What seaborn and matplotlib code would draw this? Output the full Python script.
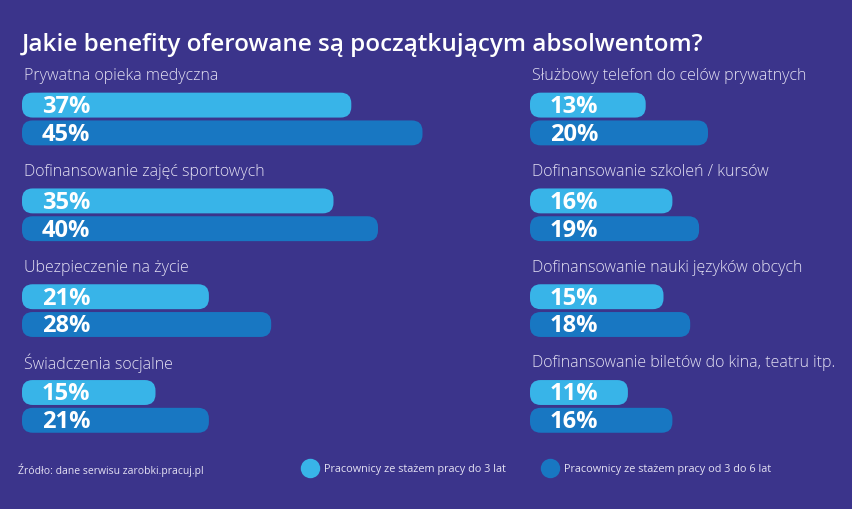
import pandas as pd
import matplotlib
matplotlib.use("Agg")
import matplotlib.pyplot as plt
import seaborn as sns
from matplotlib.patches import FancyBboxPatch
from matplotlib.lines import Line2D

left_benefits = ["Prywatna opieka medyczna", "Dofinansowanie zajęć sportowych",
                 "Ubezpieczenie na życie", "Świadczenia socjalne"]
left_upto3 = [37, 35, 21, 15]
left_3to6 = [45, 40, 28, 21]

right_benefits = ["Służbowy telefon do celów prywatnych", "Dofinansowanie szkoleń / kursów",
                  "Dofinansowanie nauki języków obcych", "Dofinansowanie biletów do kina, teatru itp."]
right_upto3 = [13, 16, 15, 11]
right_3to6 = [20, 19, 18, 16]

series = ["Pracownicy ze stażem pracy do 3 lat", "Pracownicy ze stażem pracy od 3 do 6 lat"]

bg = "#3b348b"
light_blue = "#38b4e8"
dark_blue = "#1877c2"
txt_col = "#e4e1f3"

sns.set_theme(style="white")
plt.rcParams["font.family"] = ["Open Sans", "DejaVu Sans"]

fig = plt.figure(figsize=(8.52, 5.1), dpi=100, facecolor=bg)

W, H = 852, 510
px_per_pct = 8.9
px_per_row = 95.8
y_top, y_bot = -0.9, 3.5


def make_df(benefits, a, b):
    df = pd.DataFrame({"benefit": benefits * 2,
                       "value": a + b,
                       "group": [series[0]] * len(benefits) + [series[1]] * len(benefits)})
    return df


def panel(x0_px, width_px, benefits, a, b):
    bottom = (H - (120 + px_per_row * (y_bot - 0))) / H
    height = px_per_row * (y_bot - y_top) / H
    ax = fig.add_axes([x0_px / W, bottom, width_px / W, height])
    ax.set_facecolor(bg)
    df = make_df(benefits, a, b)
    sns.barplot(data=df, y="benefit", x="value", hue="group", orient="h",
                palette=[light_blue, dark_blue], saturation=1, width=0.58,
                legend=False, ax=ax)
    ax.set_xlim(0, width_px / px_per_pct)
    ax.set_ylim(y_bot, y_top)
    aspect = px_per_pct / px_per_row
    for p in list(ax.patches):
        x, y = p.get_x(), p.get_y()
        w, h = p.get_width(), p.get_height()
        fb = FancyBboxPatch((x, y + 0.015), w, h - 0.03,
                            boxstyle="round,pad=0,rounding_size=1.2",
                            mutation_aspect=aspect,
                            facecolor=p.get_facecolor(), edgecolor="none")
        p.remove()
        ax.add_patch(fb)
        ax.text(2.2, y + h / 2 + 0.01, f"{int(round(w))}%", color="white",
                fontsize=17, fontweight="bold", va="center", ha="left")
    for i, name in enumerate(benefits):
        ax.text(0.2, i - 0.46, name, color=txt_col, fontsize=11.5,
                fontweight="light", va="center", ha="left")
    ax.set_xlabel("")
    ax.set_ylabel("")
    ax.set_xticks([])
    ax.set_yticks([])
    sns.despine(ax=ax, left=True, bottom=True)
    return ax


panel(22, 470, left_benefits, left_upto3, left_3to6)
panel(530, 310, right_benefits, right_upto3, right_3to6)

fig.text(22 / W, 1 - 45 / H, "Jakie benefity oferowane są początkującym absolwentom?",
         color="white", fontsize=17.5, fontweight="semibold", va="center", ha="left")

fig.text(18 / W, 1 - 470 / H, "Źródło: dane serwisu zarobki.pracuj.pl",
         color=txt_col, fontsize=7.5, va="center", ha="left")

handles = [Line2D([], [], marker="o", linestyle="none", markersize=14,
                  markerfacecolor=c, markeredgecolor="none") for c in (light_blue, dark_blue)]
leg = fig.legend(handles, series, loc="center left", bbox_to_anchor=(294 / W, 1 - 470 / H),
                 ncol=2, frameon=False, fontsize=7.8, handletextpad=0.7,
                 columnspacing=3.4, handlelength=1.2)
for t in leg.get_texts():
    t.set_color(txt_col)

fig.savefig("out.png", dpi=100, facecolor=bg)
